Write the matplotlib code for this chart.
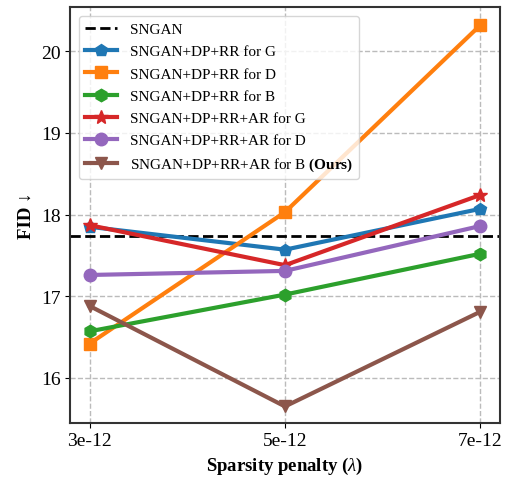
import matplotlib
matplotlib.use('Agg')
import matplotlib.pyplot as plt

# 폰트 설정 (Times 계열)
plt.rcParams['font.family'] = ['Liberation Serif', 'DejaVu Serif']
plt.rcParams['mathtext.fontset'] = 'custom'
plt.rcParams['mathtext.rm'] = 'Liberation Serif'
plt.rcParams['mathtext.it'] = 'Liberation Serif:italic'
plt.rcParams['mathtext.bf'] = 'Liberation Serif:bold'

# 데이터
x = [3, 5, 7]
x_labels = ['3e-12', '5e-12', '7e-12']
sngan = 17.74

dp_rr_g = [17.85, 17.57, 18.07]
dp_rr_d = [16.42, 18.03, 20.32]
dp_rr_b = [16.57, 17.02, 17.52]
ar_g = [17.87, 17.38, 18.24]
ar_d = [17.26, 17.31, 17.86]
ar_b = [16.88, 15.65, 16.81]

fig = plt.figure(figsize=(5.08, 4.81), dpi=100)
ax = fig.add_axes([0.138, 0.119, 0.846, 0.864])

ax.axhline(sngan, color='black', linestyle='--', linewidth=2, label='SNGAN')
ax.plot(x, dp_rr_g, color='#1f77b4', marker='p', markersize=9, linewidth=3, label='SNGAN+DP+RR for G')
ax.plot(x, dp_rr_d, color='#ff7f0e', marker='s', markersize=9, linewidth=3, label='SNGAN+DP+RR for D')
ax.plot(x, dp_rr_b, color='#2ca02c', marker='h', markersize=9, linewidth=3, label='SNGAN+DP+RR for B')
ax.plot(x, ar_g, color='#d62728', marker='*', markersize=10, linewidth=3, label='SNGAN+DP+RR+AR for G')
ax.plot(x, ar_d, color='#9467bd', marker='o', markersize=9, linewidth=3, label='SNGAN+DP+RR+AR for D')
ax.plot(x, ar_b, color='#8c564b', marker='v', markersize=9, linewidth=3,
        label=r'SNGAN+DP+RR+AR for B $\mathbf{(Ours)}$')

ax.set_xticks(x)
ax.set_xticklabels(x_labels)
ax.set_yticks([16, 17, 18, 19, 20])
ax.set_ylim(15.45, 20.54)
ax.set_xlim(2.8, 7.2)
ax.tick_params(labelsize=14)

ax.grid(True, linestyle='--', color='#bbbbbb', linewidth=1)
for s in ax.spines.values():
    s.set_color('#333333')
    s.set_linewidth(1.5)

ax.set_xlabel(r'Sparsity penalty ($\lambda$)', fontsize=13.5, fontweight='bold')
ax.set_ylabel('FID ↓', fontsize=13.5, fontweight='bold')

ax.legend(loc='upper left', fontsize=11, handlelength=2.1, borderaxespad=0.6,
          labelspacing=0.56, framealpha=0.8)

fig.savefig('out.png', dpi=100)
